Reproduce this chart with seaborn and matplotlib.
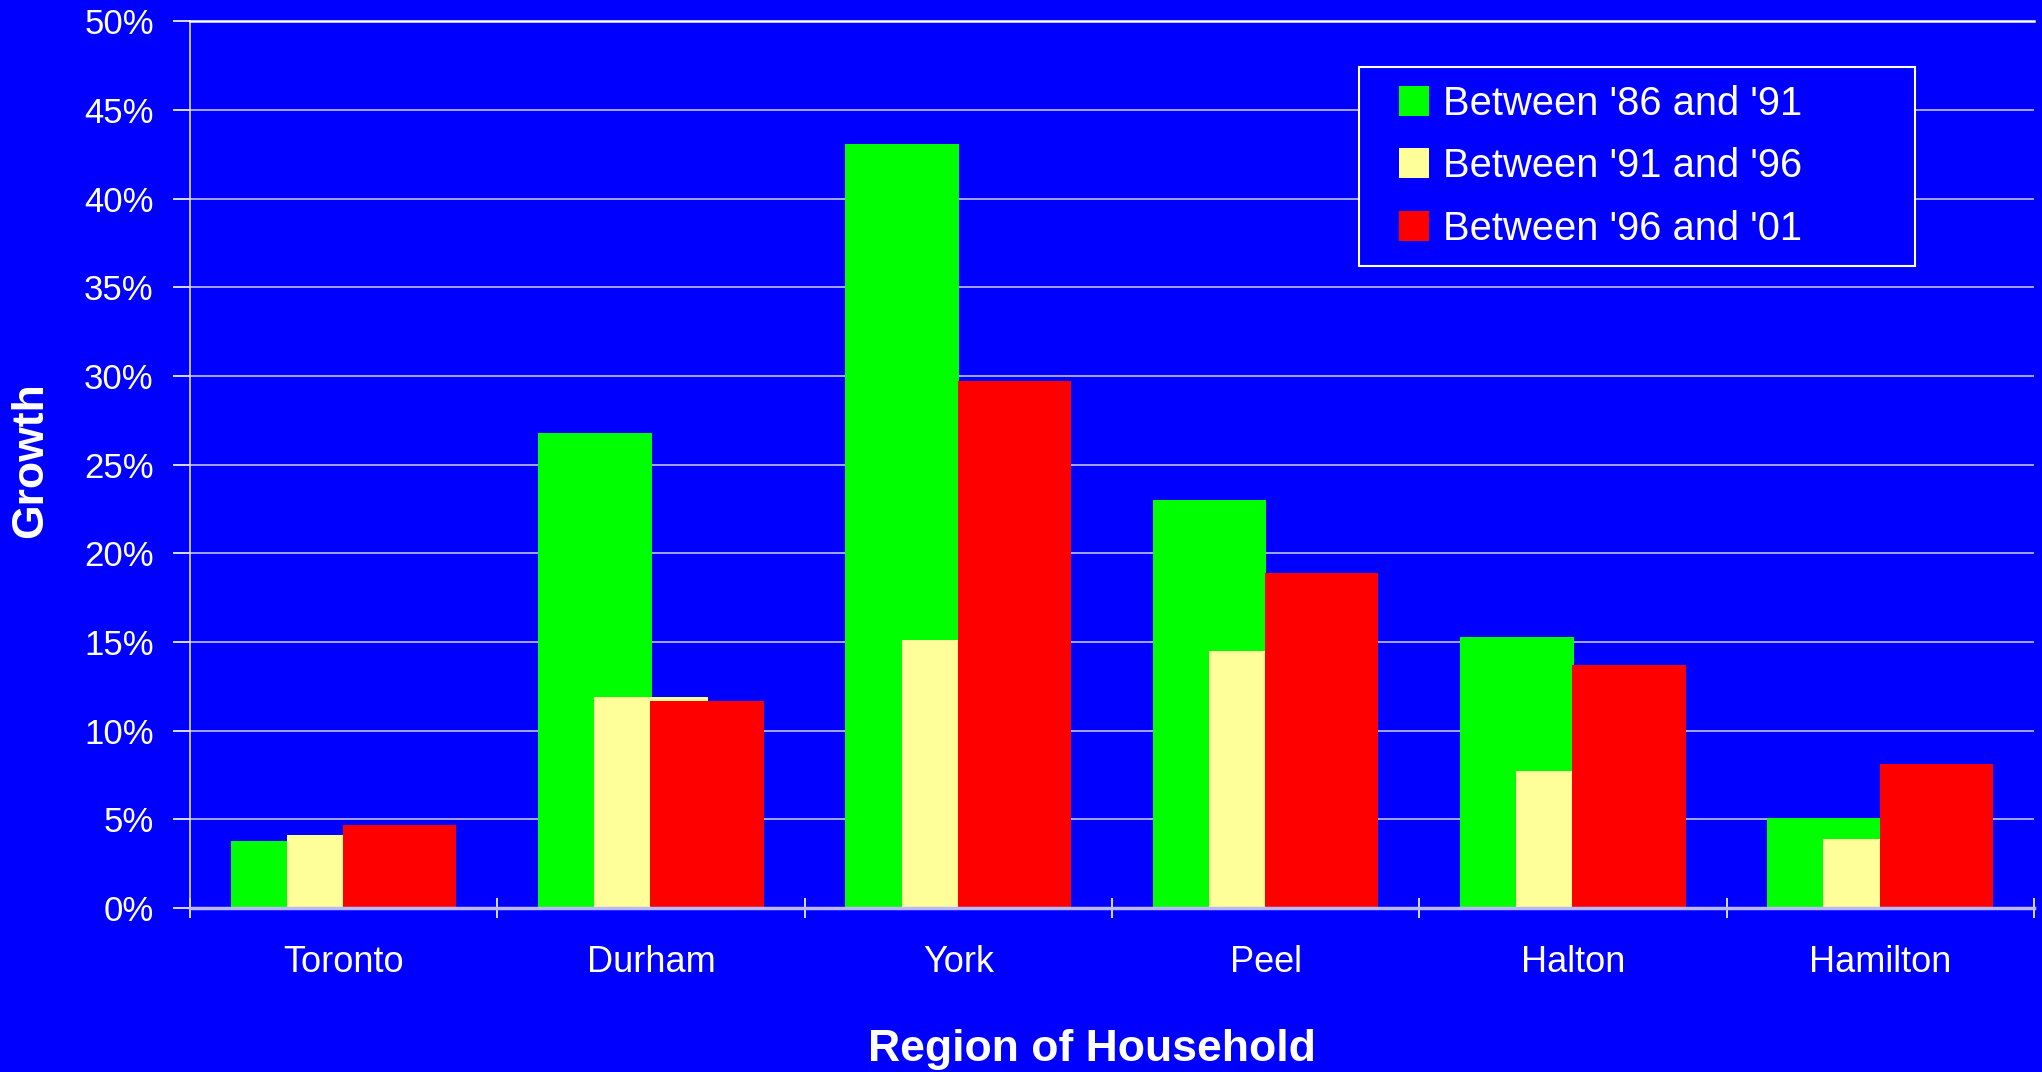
import pandas as pd
import matplotlib.pyplot as plt
import matplotlib.patches as mpatches
from matplotlib.legend_handler import HandlerPatch
import seaborn as sns

regions = ["Toronto", "Durham", "York", "Peel", "Halton", "Hamilton"]
periods = ["Between '86 and '91", "Between '91 and '96", "Between '96 and '01"]
growth_86_91 = [0.038, 0.268, 0.431, 0.230, 0.153, 0.051]
growth_91_96 = [0.041, 0.119, 0.151, 0.145, 0.077, 0.039]
growth_96_01 = [0.047, 0.117, 0.297, 0.189, 0.137, 0.081]
y_ticks = [0, 0.05, 0.10, 0.15, 0.20, 0.25, 0.30, 0.35, 0.40, 0.45, 0.50]
y_tick_labels = ["0%", "5%", "10%", "15%", "20%", "25%", "30%", "35%", "40%", "45%", "50%"]

df = pd.DataFrame({
    "Region": regions * 3,
    "Period": [periods[0]] * 6 + [periods[1]] * 6 + [periods[2]] * 6,
    "Growth": growth_86_91 + growth_91_96 + growth_96_01,
})

bg = "#0000FF"
colors = ["#00FF00", "#FFFF99", "#FF0000"]

sns.set_theme(style="white")
plt.rcParams["font.family"] = ["Liberation Sans", "DejaVu Sans"]

fig, ax = plt.subplots(figsize=(20.42, 10.72), dpi=100)
fig.patch.set_facecolor(bg)
ax.set_facecolor(bg)
fig.subplots_adjust(left=0.093, right=0.996, bottom=0.153, top=0.980)

sns.barplot(data=df, x="Region", y="Growth", hue="Period", palette=colors,
            width=0.547, saturation=1, linewidth=0, errorbar=None, ax=ax)

# Excel-style overlapping bars: widen each bar around its own centre
new_w = 0.369
for cont in ax.containers:
    for p in cont.patches:
        c = p.get_x() + p.get_width() / 2
        p.set_width(new_w)
        p.set_x(c - new_w / 2)
        p.set_zorder(2)

ax.set_xlim(-0.5, 5.5)
ax.set_ylim(0, 0.5)
ax.set_yticks(y_ticks)
ax.set_yticklabels(y_tick_labels)
ax.yaxis.grid(True, color="white", alpha=0.75, linewidth=1.2, zorder=0)
ax.set_axisbelow(True)

ax.tick_params(axis="y", colors="white", labelsize=25, length=12, width=1.2,
               direction="out", pad=14, left=True)
ax.tick_params(axis="x", which="major", colors="white", labelsize=26, length=0, pad=27)
ax.set_xticks([i - 0.5 for i in range(len(regions) + 1)], minor=True)
ax.tick_params(axis="x", which="minor", color="white", length=15, width=1.2,
               direction="inout", bottom=True)

ax.spines["top"].set_color("white")
ax.spines["top"].set_linewidth(1.8)
ax.spines["right"].set_visible(False)
ax.spines["left"].set_color("#d8d8ff")
ax.spines["left"].set_linewidth(1.2)
ax.spines["bottom"].set_color("#b8b8ff")
ax.spines["bottom"].set_linewidth(2.5)

ax.set_xlabel("Region of Household", fontsize=32, fontweight="bold", color="white")
ax.xaxis.set_label_coords(0.489, -0.16)
ax.xaxis.label.set_va("center")
ax.set_ylabel("Growth", fontsize=32, fontweight="bold", color="white")
ax.yaxis.set_label_coords(-0.0865, 0.505)
ax.yaxis.label.set_va("center")


def square_right(legend, orig_handle, xdescent, ydescent, width, height, fontsize):
    # square marker pushed to the right end of the handle box
    return mpatches.Rectangle((-xdescent + width - height, -ydescent), height, height)


leg = ax.legend(loc="upper left", bbox_to_anchor=(0.634, 0.949, 0.3016, 0.0), mode="expand",
                borderaxespad=0, fontsize=28.7, frameon=True, fancybox=False, framealpha=1,
                facecolor=bg, edgecolor="white", handlelength=1.3, handleheight=0.78,
                handletextpad=0.35, labelspacing=0.62, borderpad=0.45, title=None,
                handler_map={mpatches.Rectangle: HandlerPatch(patch_func=square_right)})
leg.get_frame().set_linewidth(1.5)
for t in leg.get_texts():
    t.set_color("white")

fig.savefig("out.png", dpi=100, facecolor=bg)
